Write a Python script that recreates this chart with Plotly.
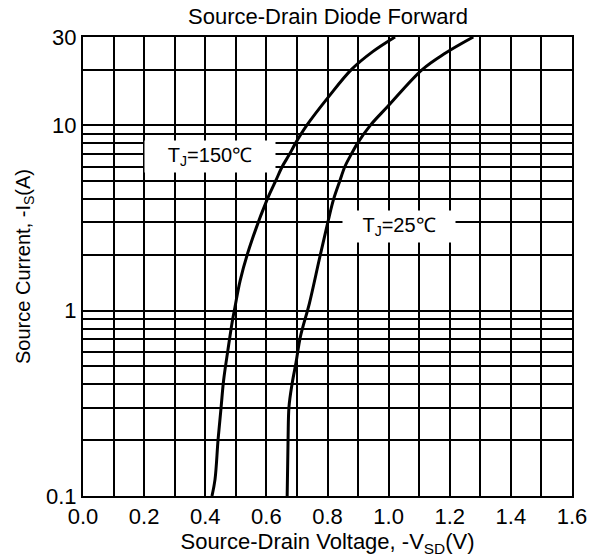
import plotly.graph_objects as go

# Data
v_150 = [0.422, 0.432, 0.442, 0.452, 0.460, 0.474, 0.489, 0.497, 0.514, 0.545, 0.603,
         0.630, 0.652, 0.676, 0.695, 0.732, 0.804, 0.878, 0.948, 1.021]
i_150 = [0.1, 0.123, 0.202, 0.303, 0.42, 0.611, 0.885, 1.04, 1.45, 2.2, 4.0,
         5.0, 6.0, 7.0, 8.0, 10.0, 14.3, 20.0, 25.0, 30]
v_25 = [0.668, 0.671, 0.674, 0.684, 0.697, 0.711, 0.741, 0.774, 0.801, 0.820, 0.840,
        0.857, 0.878, 0.898, 0.940, 0.996, 1.110, 1.185, 1.277]
i_25 = [0.1, 0.202, 0.303, 0.402, 0.525, 0.72, 1.1, 1.92, 3.0, 4.0, 5.0,
        6.0, 7.0, 8.0, 10.0, 12.6, 20.0, 24.5, 30]

x_ticks = [0.0, 0.2, 0.4, 0.6, 0.8, 1.0, 1.2, 1.4, 1.6]
x_tick_labels = ["0.0", "0.2", "0.4", "0.6", "0.8", "1.0", "1.2", "1.4", "1.6"]
x_minor_grid = [0.1, 0.3, 0.5, 0.7, 0.9, 1.1, 1.3, 1.5]
y_ticks = [0.1, 1, 10, 30]
y_tick_labels = ["0.1", "1", "10", "30"]
y_minor_grid = [0.2, 0.3, 0.4, 0.5, 0.6, 0.7, 0.8, 0.9, 2, 3, 4, 5, 6, 7, 8, 9, 20]

label_150 = "T<sub>J</sub>=150℃"
label_25 = "T<sub>J</sub>=25℃"

FONT = "Liberation Sans, Arial, sans-serif"

fig = go.Figure()
for xs, ys in ((v_150, i_150), (v_25, i_25)):
    fig.add_trace(go.Scatter(x=xs, y=ys, mode="lines",
                             line=dict(color="black", width=3, shape="spline", smoothing=1.0),
                             showlegend=False))

fig.add_annotation(x=0.415, y=0.834, yref="y", text=label_150, showarrow=False,
                   bgcolor="white", font=dict(size=20, color="black", family=FONT),
                   borderpad=3, width=124)
fig.add_annotation(x=1.034, y=0.455, yref="y", text=label_25, showarrow=False,
                   bgcolor="white", font=dict(size=20, color="black", family=FONT),
                   borderpad=3, width=106)

fig.update_layout(
    width=602, height=559,
    margin=dict(l=83, r=30, t=37, b=59),
    paper_bgcolor="white", plot_bgcolor="white",
    font=dict(family=FONT, color="black"),
    title=dict(text="Source-Drain Diode Forward", x=0.545, xanchor="center",
               y=0.985, yanchor="top", font=dict(size=22, color="black")),
)
fig.update_xaxes(range=[0, 1.6], tickvals=x_ticks, ticktext=x_tick_labels,
                 showgrid=True, gridcolor="black", gridwidth=2,
                 minor=dict(tickvals=x_minor_grid, showgrid=True, gridcolor="black", gridwidth=2, ticks=""),
                 showline=True, linecolor="black", linewidth=2, mirror=True,
                 ticks="", tickfont=dict(size=22), zeroline=False,
                 title=dict(text="Source-Drain Voltage, -V<sub>SD</sub>(V)", font=dict(size=22), standoff=2))
fig.update_yaxes(type="log", range=[-1, 1.47712], tickvals=y_ticks, ticktext=y_tick_labels,
                 showgrid=True, gridcolor="black", gridwidth=2,
                 minor=dict(tickvals=y_minor_grid, showgrid=True, gridcolor="black", gridwidth=2, ticks=""),
                 showline=True, linecolor="black", linewidth=2, mirror=True,
                 ticks="", tickfont=dict(size=22), zeroline=False,
                 title=dict(text="Source Current, -I<sub>S</sub>(A)", font=dict(size=20), standoff=10))

fig.write_html("out.html")
